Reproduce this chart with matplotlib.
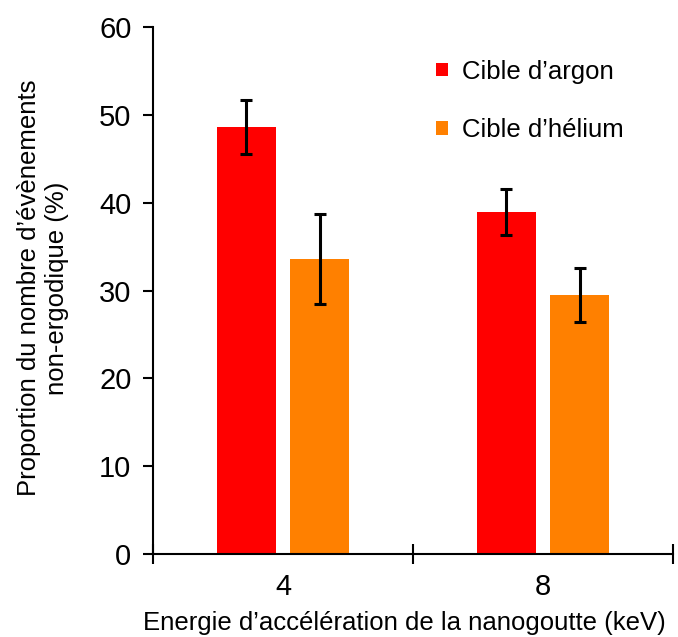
import matplotlib
matplotlib.use("Agg")
import matplotlib.pyplot as plt
import numpy as np

categories = ["4", "8"]
argon = [48.6, 38.95]
argon_err = [3.05, 2.6]
helium = [33.6, 29.5]
helium_err = [5.1, 3.05]

plt.rcParams['font.family'] = ['Liberation Sans', 'DejaVu Sans']

fig = plt.figure(figsize=(6.78, 6.37), dpi=100)
ax = fig.add_axes([0.2257, 0.1303, 0.7669, 0.8273])

x = np.arange(len(categories)) + 0.5
w = 0.227
off = 0.142
ekw = dict(elinewidth=2.2, capthick=2.2, capsize=4.5, ecolor='black')
ax.bar(x - off, argon, w, yerr=argon_err, color='#FF0000', error_kw=ekw, label="Cible d\u2019argon")
ax.bar(x + off, helium, w, yerr=helium_err, color='#FF8000', error_kw=ekw, label="Cible d\u2019h\u00e9lium")

ax.set_xlim(0, 2)
ax.set_ylim(0, 60)
ax.set_yticks(np.arange(0, 61, 10))
ax.set_xticks([0, 1, 2])
ax.set_xticklabels([])
ax.set_xticks(x, minor=True)
ax.set_xticklabels(categories, minor=True)
ax.tick_params(axis='x', which='minor', length=0, labelsize=21, pad=14)
ax.tick_params(axis='x', which='major', direction='inout', length=14, width=1.5)
ax.tick_params(axis='y', direction='out', length=7, width=1.5, labelsize=21, pad=8.5)

for s in ['top', 'right']:
    ax.spines[s].set_visible(False)
for s in ['left', 'bottom']:
    ax.spines[s].set_linewidth(1.5)

ax.set_xlabel("Energie d\u2019acc\u00e9l\u00e9ration de la nanogoutte (keV)", fontsize=18.5)
ax.xaxis.set_label_coords(0.483, -0.108)
ax.set_ylabel("Proportion du nombre d\u2019\u00e9v\u00e8nements\nnon-ergodique (%)", fontsize=18.5)
ax.yaxis.set_label_coords(-0.162, 0.505)

leg = ax.legend(loc='upper left', bbox_to_anchor=(0.5, 0.982), frameon=False, fontsize=18.5,
                handlelength=0.45, handleheight=0.45, handletextpad=0.55, labelspacing=1.35)

fig.savefig("out.png", dpi=100)
